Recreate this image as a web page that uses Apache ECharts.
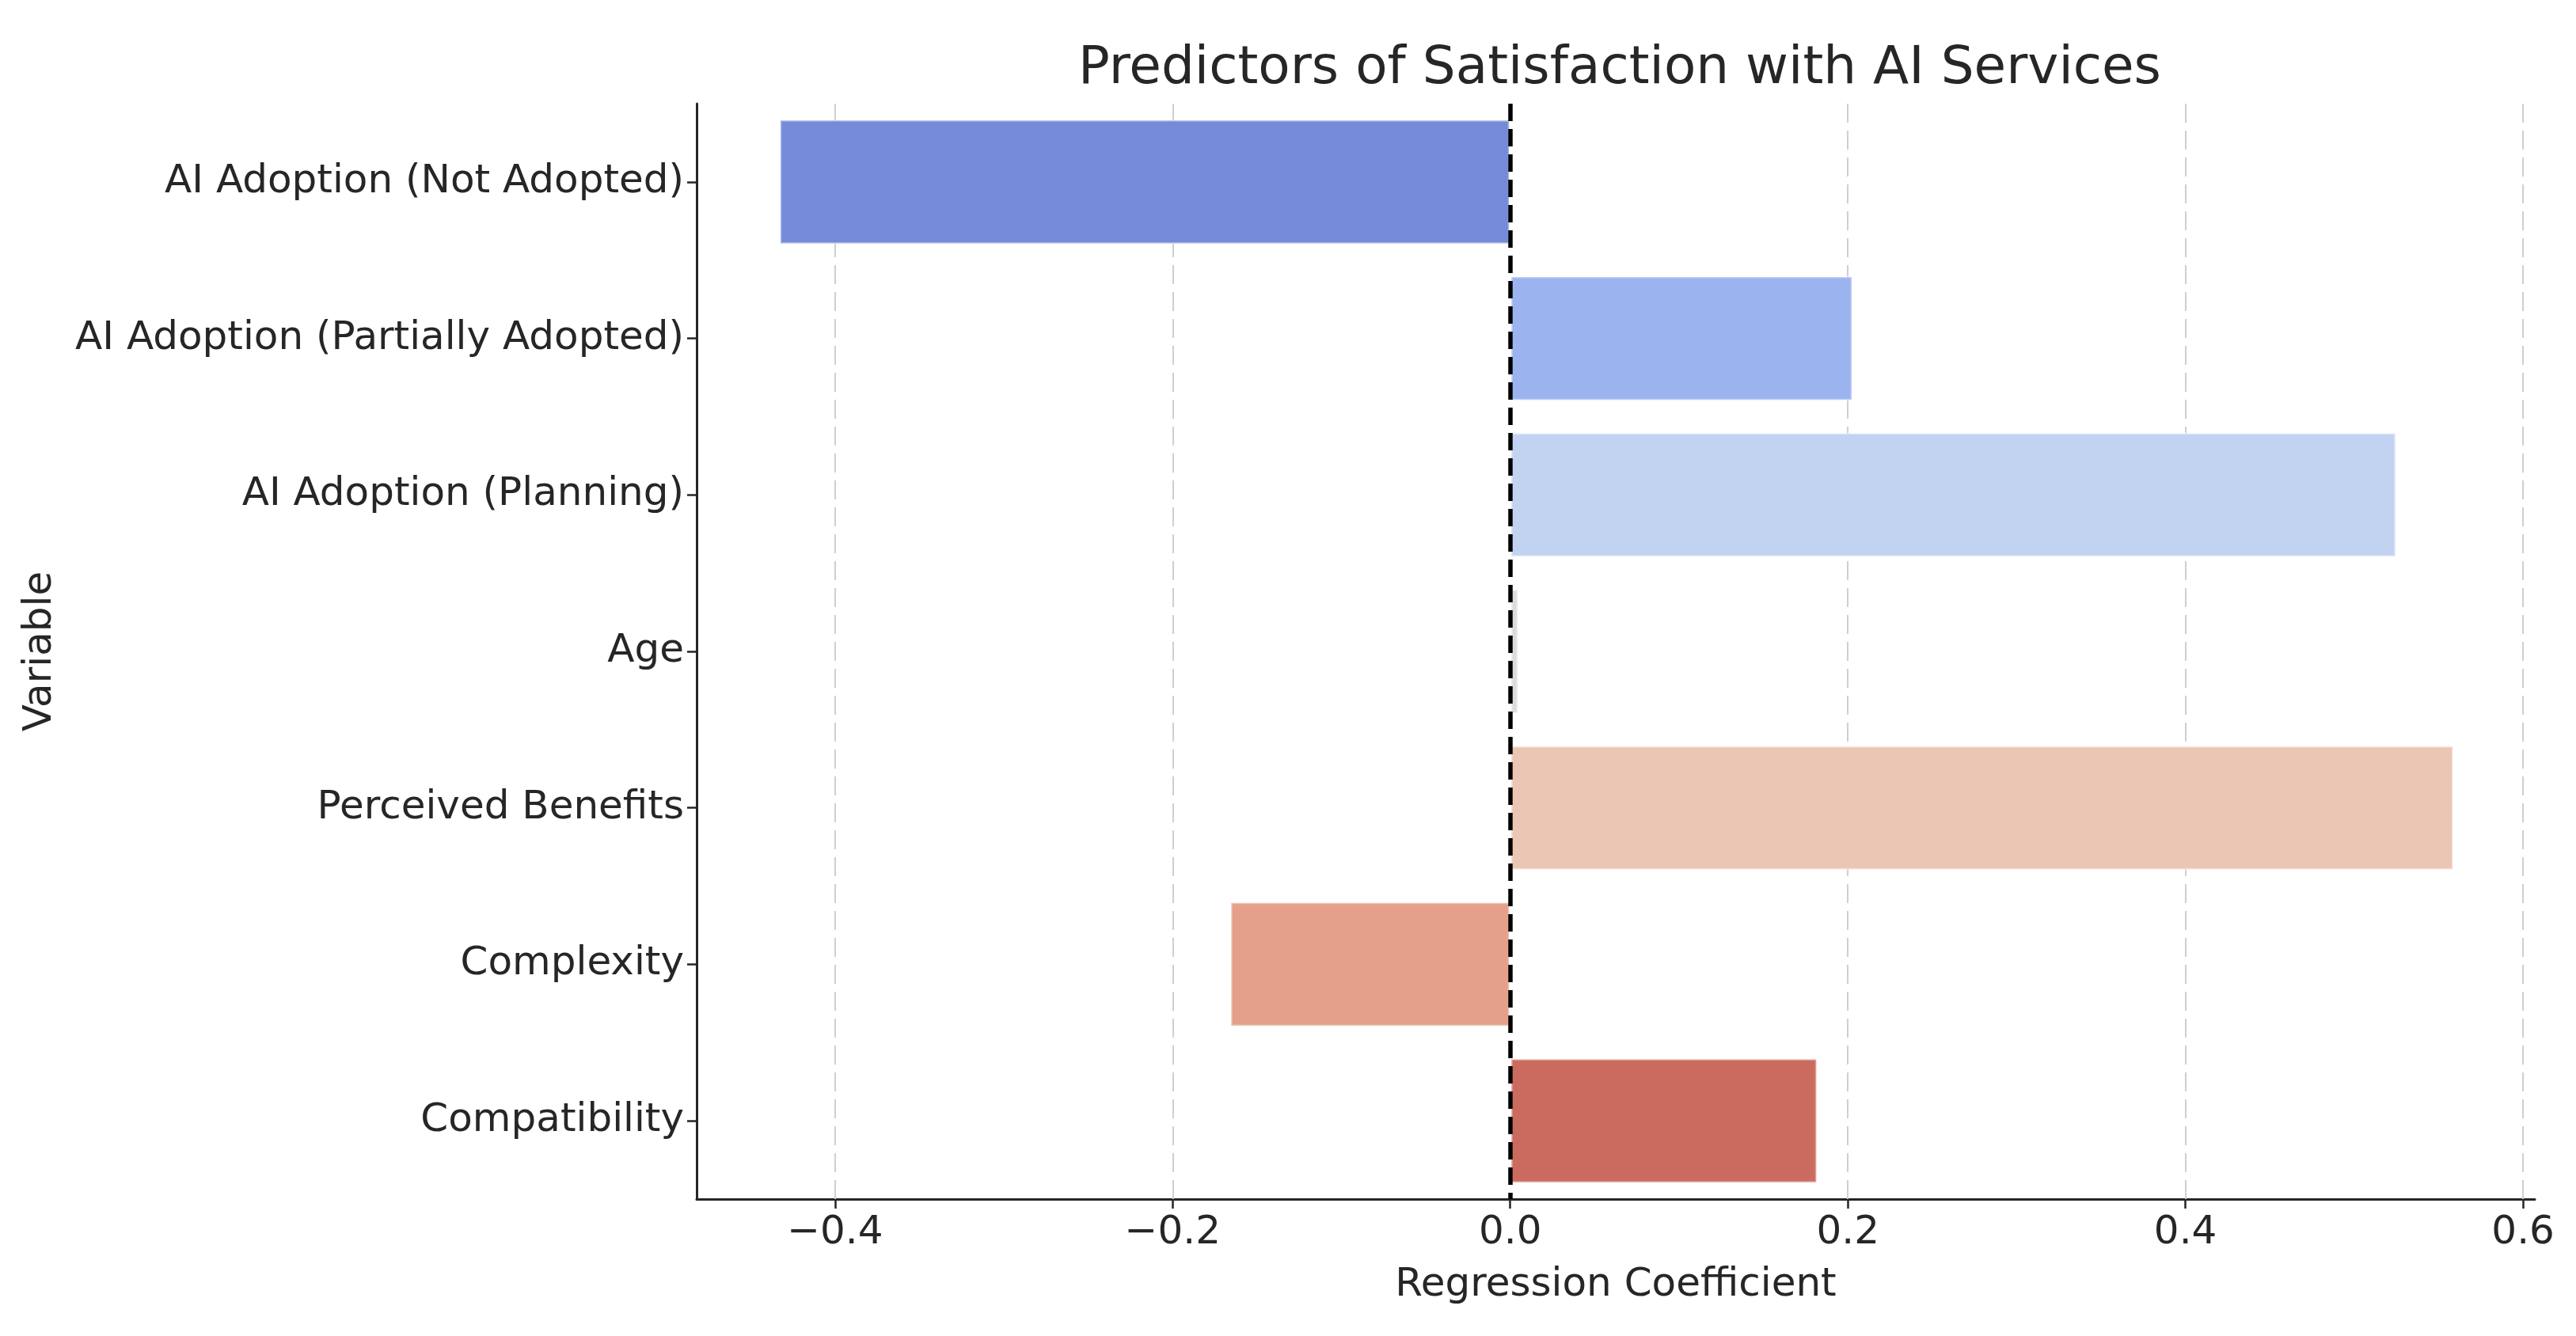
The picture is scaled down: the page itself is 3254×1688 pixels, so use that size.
<!DOCTYPE html>
<html>
<head>
<meta charset="utf-8">
<script src="https://cdn.jsdelivr.net/npm/echarts@6/dist/echarts.min.js"></script>
<style>
html,body{margin:0;padding:0;background:#fff;}
#chart{width:3254px;height:1688px;}
</style>
</head>
<body>
<div id="chart"></div>
<script>
const categories = [
  "AI Adoption (Not Adopted)",
  "AI Adoption (Partially Adopted)",
  "AI Adoption (Planning)",
  "Age",
  "Perceived Benefits",
  "Complexity",
  "Compatibility"
];
const coefficients = [-0.433, 0.203, 0.525, 0.005, 0.559, -0.166, 0.182];
const barColors = ["#758ad8", "#9bb4f0", "#c1d3f1", "#dcdcdc", "#ecc6b4", "#e4a08a", "#cb6b5f"];
const xTicks = [-0.4, -0.2, 0.0, 0.2, 0.4, 0.6];
const xMin = -0.482;
const xMax = 0.607;

const fmt = v => (v < -1e-9 ? "\u2212" : "") + Math.abs(v).toFixed(1);

const chart = echarts.init(document.getElementById('chart'), null, {renderer: 'canvas'});
const textColor = '#262626';
const font = 'DejaVu Sans';

chart.setOption({
  backgroundColor: '#ffffff',
  animation: false,
  title: {
    text: 'Predictors of Satisfaction with AI Services',
    left: 2041, top: 83, textAlign: 'center', textVerticalAlign: 'middle',
    textStyle: {fontFamily: font, fontSize: 66, fontWeight: 'normal', color: '#262626'}
  },
  grid: {left: 880, right: 52, top: 131, bottom: 173, containLabel: false},
  xAxis: {
    type: 'value', min: xMin, max: xMax,
    name: 'Regression Coefficient', nameLocation: 'middle', nameGap: 84,
    nameTextStyle: {fontFamily: font, fontSize: 50, color: textColor},
    axisLine: {show: true, onZero: false, lineStyle: {color: '#262626', width: 3}},
    axisTick: {show: true, length: 12, lineStyle: {color: '#262626', width: 2.5}, customValues: xTicks},
    axisLabel: {fontFamily: font, fontSize: 50, color: textColor, margin: 18, customValues: xTicks, formatter: fmt},
    splitLine: {show: false}
  },
  yAxis: {
    type: 'category', data: categories, inverse: true,
    name: 'Variable', nameLocation: 'middle', nameGap: 804, nameRotate: 90,
    nameTextStyle: {fontFamily: font, fontSize: 50, color: textColor},
    axisLine: {show: true, onZero: false, lineStyle: {color: '#262626', width: 3}},
    axisTick: {show: true, alignWithLabel: true, length: 12, lineStyle: {color: '#262626', width: 2.5}},
    axisLabel: {fontFamily: font, fontSize: 50, color: textColor, margin: 16},
    splitLine: {show: false}
  },
  series: [
    {
      type: 'bar',
      barCategoryGap: '20%',
      data: coefficients.map((v, i) => ({value: v, itemStyle: {color: barColors[i]}})),
      itemStyle: {borderColor: 'rgba(255,255,255,0.35)', borderWidth: 3},
      z: 3,
      markLine: {
        silent: true, symbol: 'none', label: {show: false}, z: 1,
        lineStyle: {color: '#cfcfcf', type: [24, 10], width: 2},
        data: xTicks.filter(t => Math.abs(t) > 1e-9).map(t => ({xAxis: t}))
      }
    },
    {
      type: 'line', data: [], z: 5,
      markLine: {
        silent: true, symbol: 'none', label: {show: false}, z: 10,
        lineStyle: {color: '#000000', type: [22, 10], width: 5.5},
        data: [{xAxis: 0}]
      }
    }
  ]
});
</script>
</body>
</html>
